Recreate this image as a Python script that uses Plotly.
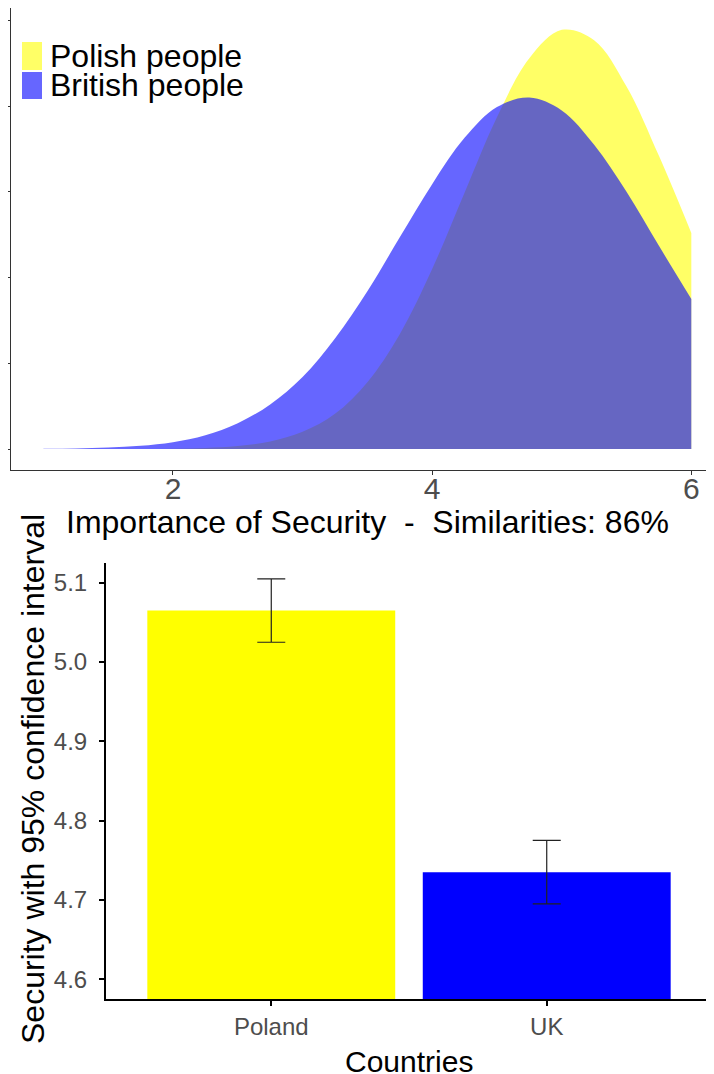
import plotly.graph_objects as go

# ---------------- data ----------------
density_x = [1.0, 1.25, 1.5, 1.75, 2.0, 2.25, 2.5, 2.75, 3.0, 3.25, 3.5,
             3.75, 4.0, 4.25, 4.5, 4.75, 5.0, 5.25, 5.5, 5.75, 6.0]
polish_density = [0.0, 0.0, 0.0, 0.0001, 0.0004, 0.0013, 0.0035, 0.0087, 0.020, 0.041, 0.078,
                  0.134, 0.210, 0.299, 0.387, 0.456, 0.489, 0.477, 0.423, 0.342, 0.252]
british_density = [0.0003, 0.0007, 0.0017, 0.0038, 0.0080, 0.016, 0.030, 0.052, 0.084, 0.129, 0.184,
                   0.247, 0.309, 0.363, 0.399, 0.410, 0.395, 0.355, 0.300, 0.237, 0.175]
series_names = ["Polish people", "British people"]
density_ticks_x = [2, 4, 6]
density_ticks_y = [0, 0.1, 0.2, 0.3, 0.4, 0.5]
top_title = "Importance of Security  -  Similarities: 86%"

countries = ["Poland", "UK"]
security_means = [5.065, 4.735]
security_ci = [0.04, 0.04]
bar_ticks_y = [4.6, 4.7, 4.8, 4.9, 5.0, 5.1]
bar_x_title = "Countries"
bar_y_title = "Security with 95% confidence interval"

# ---------------- style ----------------
FONT = "Liberation Sans, Arial, sans-serif"
OFF = 8  # page body margin
W, H = 714 - OFF, 1074 - OFF
yellow_fill = "rgba(255,255,0,0.6)"
blue_fill = "rgba(0,0,255,0.6)"
fills = [yellow_fill, blue_fill]


def px_x(p):
    return (p - OFF) / W


def px_y(p):
    return 1 - (p - OFF) / H


fig = go.Figure()

for name, ys, fc in zip(series_names, [polish_density, british_density], fills):
    fig.add_trace(go.Scatter(
        x=density_x, y=ys, name=name, mode="lines",
        line=dict(width=0, shape="spline", smoothing=1.0, color=fc),
        fill="tozeroy", fillcolor=fc,
        xaxis="x", yaxis="y", showlegend=False, hoverinfo="skip",
    ))

fig.add_trace(go.Bar(
    x=countries, y=security_means, width=0.9,
    marker=dict(color=["#FFFF00", "#0000FF"], line=dict(width=0)),
    error_y=dict(type="data", array=security_ci, visible=True,
                 color="#222222", thickness=1.2, width=14),
    xaxis="x2", yaxis="y2", showlegend=False,
))

annotations = [
    dict(text=top_title, x=px_x(367), y=px_y(522), xref="paper", yref="paper",
         showarrow=False, xanchor="center", yanchor="middle",
         font=dict(family=FONT, size=32, color="black")),
    dict(text=bar_x_title, x=px_x(409), y=px_y(1061), xref="paper", yref="paper",
         showarrow=False, xanchor="center", yanchor="middle",
         font=dict(family=FONT, size=30, color="black")),
    dict(text=bar_y_title, x=px_x(33), y=px_y(779), xref="paper", yref="paper",
         showarrow=False, xanchor="center", yanchor="middle", textangle=-90,
         font=dict(family=FONT, size=32, color="black")),
]

shapes = []
legend_rows = [(42, 70, 56), (72, 99, 85)]
for (top, bot, mid), name, fc in zip(legend_rows, series_names, fills):
    shapes.append(dict(type="rect", xref="paper", yref="paper",
                       x0=px_x(22), x1=px_x(42), y0=px_y(bot), y1=px_y(top),
                       fillcolor=fc, line=dict(width=0)))
    annotations.append(dict(text=name, x=px_x(48), y=px_y(mid), xref="paper", yref="paper",
                            showarrow=False, xanchor="left", yanchor="middle",
                            font=dict(family=FONT, size=32, color="black")))

fig.update_layout(
    width=W, height=H,
    margin=dict(l=0, r=0, t=0, b=0),
    paper_bgcolor="white", plot_bgcolor="white",
    showlegend=False,
    font=dict(family=FONT),
    xaxis=dict(domain=[px_x(11), 1.0], range=[0.75, 6.175], anchor="y",
               tickvals=density_ticks_x, ticks="outside", ticklen=4, tickcolor="#333333",
               showline=True, linecolor="#333333", linewidth=1,
               showgrid=False, zeroline=False, automargin=False,
               ticklabelstandoff=-12,
               tickfont=dict(family=FONT, size=30, color="#4D4D4D")),
    yaxis=dict(domain=[px_y(470), px_y(8)], range=[-0.0245, 0.5145], anchor="x",
               tickvals=density_ticks_y, showticklabels=False, ticks="outside", ticklen=5,
               tickcolor="#333333", showline=True, linecolor="#333333", linewidth=1,
               showgrid=False, zeroline=False, automargin=False),
    xaxis2=dict(domain=[px_x(106), px_x(712)], type="category", range=[-0.6, 1.6], anchor="y2",
                ticks="outside", ticklen=5, tickcolor="black", tickwidth=1.5,
                showline=True, linecolor="black", linewidth=2,
                showgrid=False, zeroline=False, automargin=False,
                tickfont=dict(family=FONT, size=24, color="#4D4D4D")),
    yaxis2=dict(domain=[px_y(999), px_y(563)], range=[4.575, 5.125], anchor="x2",
                tickvals=bar_ticks_y, tickformat=".1f", ticks="outside", ticklen=5,
                tickcolor="black", tickwidth=1.5,
                showline=True, linecolor="black", linewidth=2,
                showgrid=False, zeroline=False, automargin=False,
                ticklabelstandoff=7,
                tickfont=dict(family=FONT, size=24, color="#4D4D4D")),
    annotations=annotations,
    shapes=shapes,
)

fig.write_html("out.html")
